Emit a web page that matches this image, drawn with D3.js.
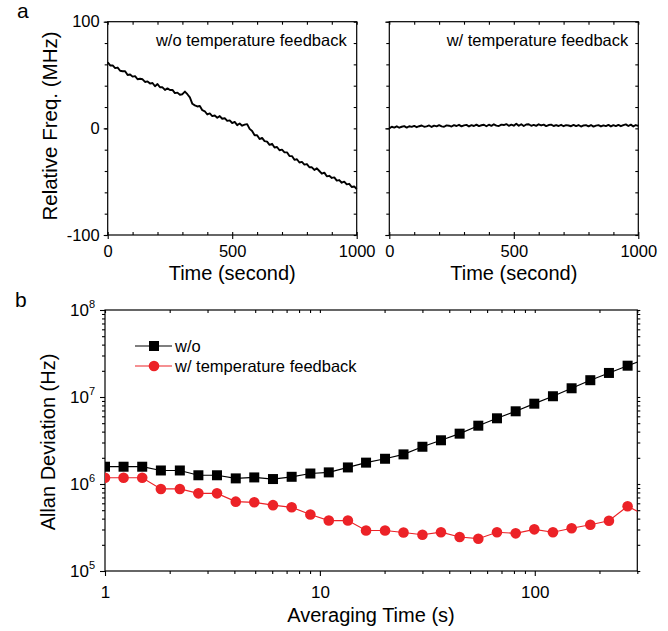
<!DOCTYPE html>
<html>
<head>
<meta charset="utf-8">
<script src="https://cdn.jsdelivr.net/npm/d3@7"></script>
<style>
body { margin: 0; background: #fff; }
text { font-family: "Liberation Sans", Arial, sans-serif; }
</style>
</head>
<body>
<svg></svg>
<script>
// panel a: relative frequency, one sample every 10 s
const sampleStep = 10;
const freqNoFeedback = [
	62, 59, 59, 56.5, 57, 54, 53.5, 53.5, 50, 50.5,
	48.5, 49, 46, 46.5, 46, 43.5, 44, 42, 42.5, 39.5,
	41.5, 38.5, 38.5, 36, 37.5, 36, 36, 33, 33.5, 31.5,
	32, 34.5, 32, 29, 23, 21.5, 20.5, 21, 17, 16,
	13, 14, 11.5, 12, 10, 11.5, 9, 9.5, 7, 7.5,
	5, 6, 3, 4.5, 2.5, 3.5, 4, -0.5, -2.5, -6.5,
	-6.5, -10, -9, -12, -12.5, -15.5, -14.5, -18, -17.5, -20.5,
	-20, -22.5, -22.5, -26, -26, -29.5, -29, -32, -31.5, -34,
	-33.5, -36.5, -36.5, -39, -37.5, -40, -42.5, -41.5, -45, -44.5,
	-46.5, -46, -49, -48.5, -51, -50, -52.5, -52, -55, -54.5,
	-57,
];
const freqFeedback = [
	0, 1.5, 0.7, 1.9, 0.6, 1.5, 2.1, 0.7, 2, 1.4,
	2.3, 1.1, 2, 2.7, 1.5, 1.9, 2.7, 1.3, 2.5, 1.9,
	3, 1.8, 1.5, 2.8, 2.5, 1.7, 3, 2.2, 3.3, 1.9,
	2.8, 3.3, 1.8, 3, 2.2, 3.5, 2.1, 2.9, 3.4, 2,
	3.4, 2.3, 3.8, 2.6, 2.2, 3.5, 3.1, 4, 2.4, 3.5,
	2.5, 4.4, 2.4, 3.9, 2.2, 3.6, 3.8, 2.4, 3.3, 2.3,
	3.8, 2.7, 3.5, 2.1, 3.1, 3.5, 2.2, 3.1, 2.2, 3.3,
	2, 3, 2.7, 2, 3.2, 2.1, 3.1, 1.7, 2.7, 3,
	1.9, 3.1, 1.6, 2.6, 3, 1.8, 2.8, 2.1, 3.2, 1.8,
	3, 2.1, 3.2, 2, 3, 3.7, 2.2, 3.5, 1.8, 3.1,
	2.4,
];
const timeTicks = [0, 500, 1000];
const freqTicks = [-100, 0, 100];

// panel b: Allan deviation
const tau = [1, 1.22, 1.49, 1.82, 2.23, 2.72, 3.32, 4.06, 4.95, 6.05,
	7.39, 9.03, 11.0, 13.5, 16.4, 20.1, 24.5, 30.0, 36.6, 44.7,
	54.6, 66.7, 81.5, 99.5, 121.5, 148.4, 181.3, 221.4, 270.4, 330.3];
const adevNoFeedback = [1.58e6, 1.58e6, 1.58e6, 1.43e6, 1.43e6, 1.26e6, 1.26e6, 1.16e6, 1.19e6, 1.14e6,
	1.21e6, 1.32e6, 1.36e6, 1.55e6, 1.76e6, 1.95e6, 2.19e6, 2.68e6, 3.18e6, 3.79e6,
	4.68e6, 5.69e6, 6.85e6, 8.38e6, 1.02e7, 1.26e7, 1.56e7, 1.89e7, 2.29e7, 2.75e7];
const adevFeedback = [1.18e6, 1.18e6, 1.18e6, 8.77e5, 8.77e5, 7.81e5, 7.81e5, 6.27e5, 6.16e5, 5.71e5,
	5.40e5, 4.46e5, 3.80e5, 3.80e5, 2.92e5, 2.92e5, 2.77e5, 2.61e5, 2.79e5, 2.46e5,
	2.35e5, 2.79e5, 2.71e5, 3.01e5, 2.79e5, 3.10e5, 3.40e5, 3.78e5, 5.55e5, 4.3e5];
const tauTicks = [1, 10, 100];
const adevTicks = [1e5, 1e6, 1e7, 1e8];
const seriesNames = ["w/o", "w/ temperature feedback"];

const red = "#ec2227";
const svg = d3.select("svg").attr("width", 668).attr("height", 631);
const plain = (d) => String(d);

function styleAxis(g, fontSize) {
	g.attr("font-family", null).attr("font-size", fontSize);
	g.select(".domain").remove();
	g.selectAll("line").attr("stroke-width", 1.1);
	g.selectAll("text").attr("fill", "#000");
}

function drawTrace(x0, values, label, withLabels) {
	const g = svg.append("g");
	const x = d3.scaleLinear().domain([0, 1000]).range([x0, x0 + 249]);
	const y = d3.scaleLinear().domain([-100, 100]).range([235, 21.7]);
	const minorT = d3.range(0, 1001, 100);
	const minorF = d3.range(-100, 101, 20);

	// bottom: major out, minor in
	g.append("g").attr("transform", "translate(0,235)")
		.call(d3.axisBottom(x).tickValues(timeTicks).tickSize(4).tickPadding(6)
			.tickFormat(plain).tickSizeOuter(0))
		.call((a) => styleAxis(a, 16.5));
	g.append("g").attr("transform", "translate(0,235)")
		.call(d3.axisBottom(x).tickValues(minorT).tickSize(-3).tickFormat("").tickSizeOuter(0))
		.call((a) => styleAxis(a, 16));
	// top mirror
	g.append("g").attr("transform", "translate(0,21.7)")
		.call(d3.axisTop(x).tickValues(minorT).tickSize(-3).tickFormat("").tickSizeOuter(0))
		.call((a) => styleAxis(a, 16));
	// left
	g.append("g").attr("transform", `translate(${x0},0)`)
		.call(d3.axisLeft(y).tickValues(freqTicks).tickSize(4).tickPadding(4)
			.tickFormat(withLabels ? plain : "").tickSizeOuter(0))
		.call((a) => styleAxis(a, 16.5));
	g.append("g").attr("transform", `translate(${x0},0)`)
		.call(d3.axisLeft(y).tickValues(minorF).tickSize(3).tickFormat("").tickSizeOuter(0))
		.call((a) => styleAxis(a, 16));
	// right mirror
	g.append("g").attr("transform", `translate(${x0 + 249},0)`)
		.call(d3.axisRight(y).tickValues(minorF).tickSize(-3).tickFormat("").tickSizeOuter(0))
		.call((a) => styleAxis(a, 16));

	g.append("rect")
		.attr("x", x0).attr("y", 21.7)
		.attr("width", 249).attr("height", 235 - 21.7)
		.attr("fill", "none").attr("stroke", "#000").attr("stroke-width", 1.2);

	const line = d3.line()
		.x((d, i) => x(i * sampleStep))
		.y((d) => y(d));
	g.append("path")
		.datum(values)
		.attr("d", line)
		.attr("fill", "none")
		.attr("stroke", "#000")
		.attr("stroke-width", 1.9)
		.attr("stroke-linejoin", "round");

	g.append("text")
		.attr("x", x0 + 239).attr("y", 46)
		.attr("text-anchor", "end")
		.attr("font-size", 16.5)
		.text(label);

	g.append("text")
		.attr("x", x0 + 124.5).attr("y", 280)
		.attr("text-anchor", "middle")
		.attr("font-size", 20)
		.text("Time (second)");
}

drawTrace(107.7, freqNoFeedback, "w/o temperature feedback", true);
drawTrace(389.3, freqFeedback, "w/ temperature feedback", false);

svg.append("text")
	.attr("transform", "translate(57,126) rotate(-90)")
	.attr("text-anchor", "middle")
	.attr("font-size", 20.5)
	.text("Relative Freq. (MHz)");

svg.append("text").attr("x", 17).attr("y", 18).attr("font-size", 21).text("a");
svg.append("text").attr("x", 15).attr("y", 307).attr("font-size", 21).text("b");

// ---- panel b ----
const bx = d3.scaleLog().domain([1, 300]).range([105, 637.3]);
const by = d3.scaleLog().domain([1e5, 1e8]).range([571, 310]);
const gb = svg.append("g");

const minorTau = [2, 3, 4, 5, 6, 7, 8, 9, 20, 30, 40, 50, 60, 70, 80, 90, 200, 300];
const minorAdev = [];
[1e5, 1e6, 1e7].forEach((p) => [2, 3, 4, 5, 6, 7, 8, 9].forEach((m) => minorAdev.push(p * m)));

gb.append("g").attr("transform", "translate(0,571)")
	.call(d3.axisBottom(bx).tickValues(tauTicks).tickSize(5).tickPadding(10)
		.tickFormat(plain).tickSizeOuter(0))
	.call((a) => styleAxis(a, 17));
gb.append("g").attr("transform", "translate(0,571)")
	.call(d3.axisBottom(bx).tickValues(minorTau).tickSize(3).tickFormat("").tickSizeOuter(0))
	.call((a) => styleAxis(a, 17));
gb.append("g").attr("transform", "translate(0,310)")
	.call(d3.axisTop(bx).tickValues(tauTicks.concat(minorTau)).tickSize(-3).tickFormat("").tickSizeOuter(0))
	.call((a) => styleAxis(a, 17));

const yAxisB = gb.append("g").attr("transform", "translate(105,0)")
	.call(d3.axisLeft(by).tickValues(adevTicks).tickSize(5).tickFormat("").tickSizeOuter(0))
	.call((a) => styleAxis(a, 17));
yAxisB.selectAll(".tick").append("text")
	.attr("x", -10).attr("dy", "0.35em")
	.attr("text-anchor", "end")
	.attr("fill", "#000")
	.attr("font-size", 17)
	.each(function (d) {
		const t = d3.select(this);
		t.append("tspan").text("10");
		t.append("tspan").attr("font-size", 11).attr("dy", "-0.8em").text(Math.round(Math.log10(d)));
	});
gb.append("g").attr("transform", "translate(105,0)")
	.call(d3.axisLeft(by).tickValues(minorAdev).tickSize(3).tickFormat("").tickSizeOuter(0))
	.call((a) => styleAxis(a, 17));
gb.append("g").attr("transform", "translate(637.3,0)")
	.call(d3.axisRight(by).tickValues(adevTicks.concat(minorAdev)).tickSize(3).tickFormat("").tickSizeOuter(0))
	.call((a) => styleAxis(a, 17));

gb.append("rect")
	.attr("x", 105).attr("y", 310)
	.attr("width", 637.3 - 105).attr("height", 571 - 310)
	.attr("fill", "none").attr("stroke", "#000").attr("stroke-width", 1.2);

svg.append("clipPath").attr("id", "clipB")
	.append("rect").attr("x", 105).attr("y", 310)
	.attr("width", 637.3 - 105).attr("height", 571 - 310);

const plotB = gb.append("g").attr("clip-path", "url(#clipB)");
const adevLine = d3.line().x((d, i) => bx(tau[i])).y((d) => by(d));

plotB.append("path").datum(adevFeedback).attr("d", adevLine)
	.attr("fill", "none").attr("stroke", red).attr("stroke-width", 1.2);
plotB.selectAll("circle.fb").data(adevFeedback).enter().append("circle")
	.attr("class", "fb")
	.attr("cx", (d, i) => bx(tau[i]))
	.attr("cy", (d) => by(d))
	.attr("r", 5.3)
	.attr("fill", red);

plotB.append("path").datum(adevNoFeedback).attr("d", adevLine)
	.attr("fill", "none").attr("stroke", "#000").attr("stroke-width", 1.2);
plotB.selectAll("rect.nofb").data(adevNoFeedback).enter().append("rect")
	.attr("class", "nofb")
	.attr("x", (d, i) => bx(tau[i]) - 5)
	.attr("y", (d) => by(d) - 5)
	.attr("width", 10).attr("height", 10)
	.attr("fill", "#000");

// legend
const legend = gb.append("g");
legend.append("line").attr("x1", 135).attr("x2", 172).attr("y1", 346).attr("y2", 346)
	.attr("stroke", "#000").attr("stroke-width", 1.2);
legend.append("rect").attr("x", 149).attr("y", 341).attr("width", 10).attr("height", 10).attr("fill", "#000");
legend.append("text").attr("x", 175).attr("y", 352).attr("font-size", 16.5).text(seriesNames[0]);
legend.append("line").attr("x1", 135).attr("x2", 172).attr("y1", 366).attr("y2", 366)
	.attr("stroke", red).attr("stroke-width", 1.2);
legend.append("circle").attr("cx", 154).attr("cy", 366).attr("r", 5.3).attr("fill", red);
legend.append("text").attr("x", 175).attr("y", 372).attr("font-size", 16.5).text(seriesNames[1]);

svg.append("text")
	.attr("x", 371).attr("y", 622)
	.attr("text-anchor", "middle")
	.attr("font-size", 20)
	.text("Averaging Time (s)");

svg.append("text")
	.attr("transform", "translate(55,442) rotate(-90)")
	.attr("text-anchor", "middle")
	.attr("font-size", 20)
	.text("Allan Deviation (Hz)");
</script>
</body>
</html>
